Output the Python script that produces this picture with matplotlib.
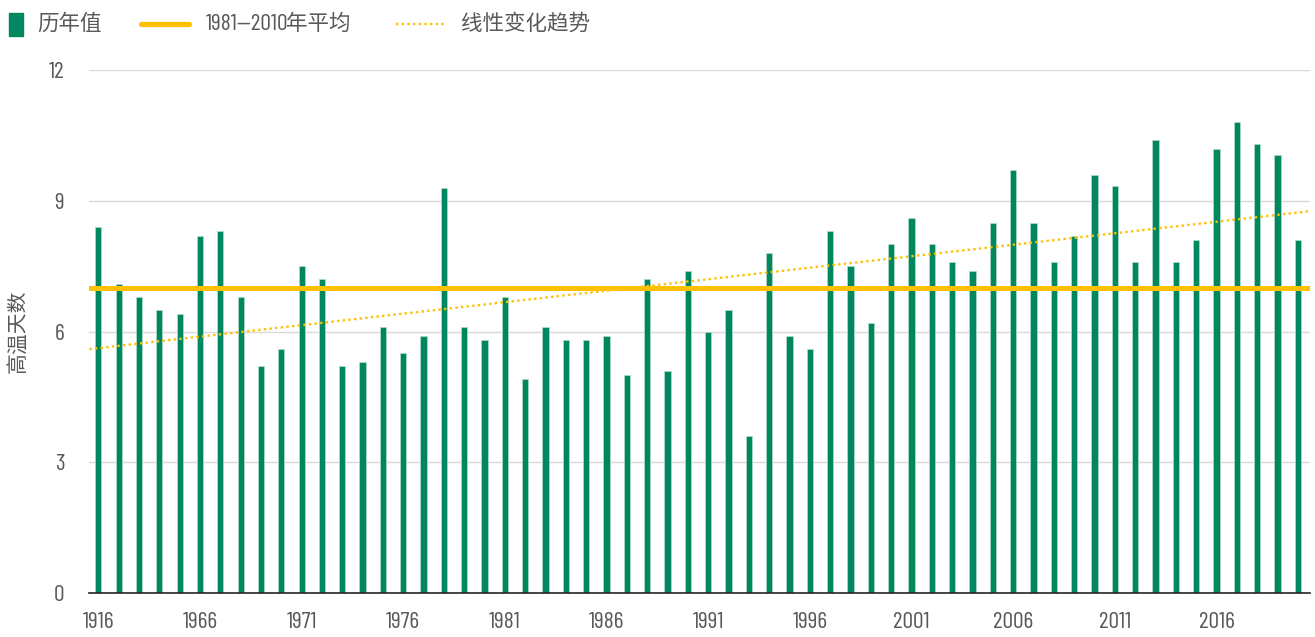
import matplotlib
matplotlib.use("Agg")
import matplotlib.pyplot as plt
import numpy as np
from matplotlib.lines import Line2D
from matplotlib.patches import Rectangle

years = list(range(1961, 2021))
values = [8.4, 7.1, 6.8, 6.5, 6.4, 8.2, 8.3, 6.8, 5.2, 5.6,
          7.5, 7.2, 5.2, 5.3, 6.1, 5.5, 5.9, 9.3, 6.1, 5.8,
          6.8, 4.9, 6.1, 5.8, 5.8, 5.9, 5.0, 7.2, 5.1, 7.4,
          6.0, 6.5, 3.6, 7.8, 5.9, 5.6, 8.3, 7.5, 6.2, 8.0,
          8.6, 8.0, 7.6, 7.4, 8.5, 9.7, 8.5, 7.6, 8.2, 9.6,
          9.35, 7.6, 10.4, 7.6, 8.1, 10.2, 10.8, 10.3, 10.05, 8.1]
tick_labels = ["1916", "1966", "1971", "1976", "1981", "1986",
               "1991", "1996", "2001", "2006", "2011", "2016"]
avg_value = 7.0                 # 1981-2010 平均
trend_years = [1961, 2020]      # 线性趋势两端
trend_values = [5.62, 8.73]

green = "#00875F"
gold = "#FFC000"
gray = "#595959"
num_font = ["Barlow Condensed", "Roboto Condensed", "DejaVu Sans"]
cjk_font = ["Noto Sans CJK SC", "DejaVu Sans"]

fig = plt.figure(figsize=(13.15, 6.37), dpi=100)
ax = fig.add_axes([0.0679, 0.069, 0.9283, 0.821])

x = np.arange(len(years))
ax.bar(x, values, width=0.3, color=green, edgecolor="#B5DDCB", linewidth=0.5, zorder=3)
ax.axhline(avg_value, color=gold, linewidth=3.6, solid_capstyle="round", zorder=4)

xlim = (-0.44, 59.6)
slope = (trend_values[1] - trend_values[0]) / (trend_years[1] - trend_years[0])
tx = np.array(xlim)
ty = trend_values[0] + slope * tx
ax.plot(tx, ty, color=gold, linewidth=1.7, linestyle=(0, (1, 1.4)), zorder=5)

ax.set_xlim(*xlim)
ax.set_ylim(0, 12)
ax.set_yticks([0, 3, 6, 9, 12])
ax.set_xticks(x[::5])
ax.set_xticklabels(tick_labels)
ax.grid(axis="y", color="#D9D9D9", linewidth=1.0, zorder=0)
ax.tick_params(length=0, labelcolor=gray, labelsize=17)
ax.tick_params(axis="y", pad=18)
ax.tick_params(axis="x", pad=14)
for lab in ax.get_xticklabels() + ax.get_yticklabels():
    lab.set_family(num_font)
for s in ["top", "right", "left"]:
    ax.spines[s].set_visible(False)
ax.spines["bottom"].set_color("#262626")
ax.spines["bottom"].set_linewidth(1.2)
ax.spines["bottom"].set_zorder(6)

ax.set_ylabel("高温天数", family=cjk_font, fontsize=15, color=gray, labelpad=14, weight="light")

# legend drawn by hand at the top
W, H = 1315, 637
ly = 1 - 24 / H
fig.patches.append(Rectangle((9 / W, 1 - 36 / H), 14 / W, 23 / H, transform=fig.transFigure,
                             color=green, figure=fig))
fig.text(37 / W, ly, "历年值", family=cjk_font, fontsize=15.5, color=gray, va="center", weight="light")
fig.lines.append(Line2D([141 / W, 189 / W], [ly, ly], transform=fig.transFigure,
                        color=gold, linewidth=3.8, solid_capstyle="round"))
t1 = fig.text(206 / W, ly, "1981—2010", family=num_font, fontsize=17, color=gray, va="center")
ax.annotate("年平均", xy=(1, 0.5), xycoords=t1, xytext=(-1.5, 0), textcoords="offset points",
            family=cjk_font, fontsize=15.5, color=gray, va="center", weight="light",
            annotation_clip=False)
fig.lines.append(Line2D([396 / W, 444 / W], [ly, ly], transform=fig.transFigure,
                        color=gold, linewidth=1.7, linestyle=(0, (1, 1.4))))
fig.text(461 / W, ly, "线性变化趋势", family=cjk_font, fontsize=15.5, color=gray, va="center", weight="light")

fig.savefig("out.png", dpi=100)
